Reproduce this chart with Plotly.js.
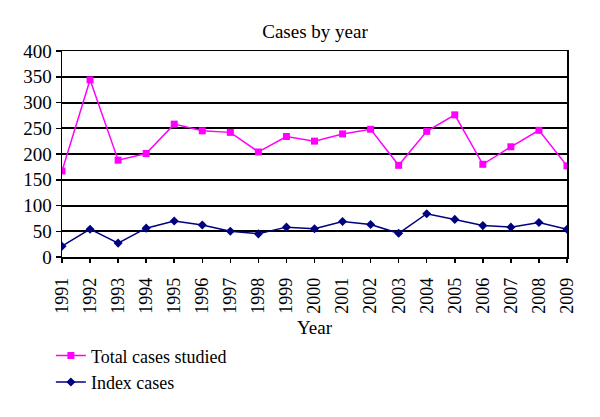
<!DOCTYPE html>
<html>
<head>
<meta charset="utf-8">
<script src="https://cdn.plot.ly/plotly-3.0.1.min.js"></script>
<style>html,body{margin:0;padding:0;background:#fff;}#chart{width:600px;height:417px;}</style>
</head>
<body>
<div id="chart"></div>
<script>
const years = ["1991","1992","1993","1994","1995","1996","1997","1998","1999","2000","2001","2002","2003","2004","2005","2006","2007","2008","2009"];
const totalCases = [167,344,188,201,258,245,242,204,234,225,239,248,178,244,276,180,214,246,177];
const indexCases = [21,54,27,56,70,62,50,45,58,55,69,63,46,84,73,61,58,67,54];
const yTicks = [0,50,100,150,200,250,300,350,400];

const serif = "Liberation Serif";

const traces = [
  {x: years, y: totalCases, name: "Total cases studied", type: "scatter", mode: "lines+markers",
   line: {color: "#ff00ff", width: 1.5}, marker: {symbol: "square", size: 7, color: "#ff00ff"}},
  {x: years, y: indexCases, name: "Index cases", type: "scatter", mode: "lines+markers",
   line: {color: "#000080", width: 1.5}, marker: {symbol: "diamond", size: 7, color: "#000080"}}
];

const layout = {
  width: 600, height: 417,
  margin: {l: 62, r: 33, t: 51, b: 160},
  paper_bgcolor: "#fff", plot_bgcolor: "#fff",
  font: {family: serif, color: "#000", size: 18},
  title: {text: "Cases by year", x: 0.525, xanchor: "center", y: 0.925, yanchor: "middle", font: {family: serif, size: 19, color: "#000"}},
  xaxis: {
    type: "category", range: [0, 18], tickangle: -90,
    ticks: "outside", ticklen: 4, tickcolor: "#000", tickwidth: 1.5,
    ticklabelstandoff: 8,
    showline: true, linecolor: "#000", linewidth: 1.5, mirror: true,
    showgrid: false, zeroline: false,
    tickfont: {family: serif, size: 18, color: "#000"},
    title: {text: "Year", font: {family: serif, size: 19, color: "#000"}, standoff: 8}
  },
  yaxis: {
    range: [0, 400], tickvals: yTicks,
    ticks: "outside", ticklen: 5, tickcolor: "#000", tickwidth: 1.5,
    showline: true, linecolor: "#000", linewidth: 1.5, mirror: true,
    showgrid: true, gridcolor: "#000", gridwidth: 2, zeroline: false,
    tickfont: {family: serif, size: 19, color: "#000"}
  },
  showlegend: true,
  legend: {x: -0.022, xanchor: "left", y: -0.39, yanchor: "top", orientation: "v",
    font: {family: serif, size: 18, color: "#000"}, bgcolor: "rgba(0,0,0,0)", tracegroupgap: 0}
};

Plotly.newPlot("chart", traces, layout, {displayModeBar: false, staticPlot: true});
</script>
</body>
</html>
